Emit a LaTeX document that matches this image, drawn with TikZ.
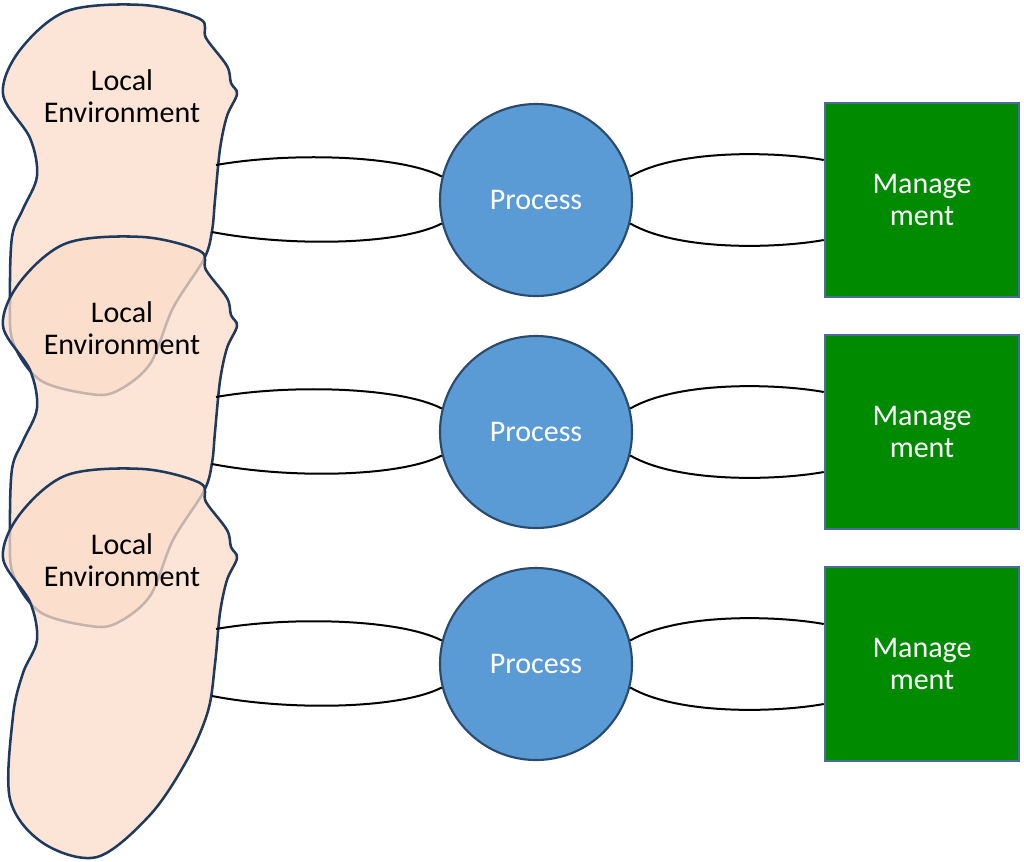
\documentclass[tikz,border=0pt]{standalone}
\usepackage{fontspec}
\setmainfont{Carlito}
\begin{document}
\begin{tikzpicture}[x=0.75pt,y=-0.75pt,
  blob/.style={draw=blobline,line width=1.9pt,fill=peach,fill opacity=0.75},
  proc/.style={circle,draw=procline,line width=1.6pt,fill=procfill,minimum size=144pt,inner sep=0pt,text=white,font=\fontsize{22.5}{27}\selectfont},
  mgmt/.style={rectangle,draw=mgline,line width=1.4pt,fill=mgfill,minimum width=146pt,minimum height=145pt,inner sep=0pt,text=white,align=center,font=\fontsize{22.5}{24}\selectfont},
  lbl/.style={align=center,font=\fontsize{22.5}{24}\selectfont,text=black},
  link/.style={draw=black,line width=1.5pt}]
\definecolor{peach}{HTML}{FBDCC8}
\definecolor{blobline}{HTML}{1F3A5C}
\definecolor{procfill}{HTML}{5B9BD5}
\definecolor{procline}{HTML}{2A4A6E}
\definecolor{mgfill}{HTML}{008A00}
\definecolor{mgline}{HTML}{4A6AA0}
\useasboundingbox (0,0) rectangle (1024,861);
% blobs
\foreach \o in {0,232}{
\draw[blob] plot[smooth cycle,tension=0.55] coordinates {(3,94+\o) (20,50+\o) (67,11+\o) (143,5+\o) (200,19+\o) (206,38+\o) (227,66+\o) (231,83+\o) (237,94+\o) (227,116+\o) (220,149+\o) (215,200+\o) (212,231+\o) (204,259+\o) (173,308+\o) (150,364+\o) (117,391+\o) (90,394+\o) (40,380+\o) (13,342+\o) (10,298+\o) (12,237+\o) (23,209+\o) (37,176+\o) (30,138+\o)};
}
\draw[blob] plot[smooth cycle,tension=0.55] coordinates {(3,558) (20,514) (67,475) (143,469) (200,483) (206,502) (227,530) (231,547) (237,558) (227,580) (220,613) (215,664) (208,711) (187,760) (150,815) (97,857) (43,843) (10,799) (13,716) (23,673) (37,640) (30,602)};
% labels
\foreach \i/\y in {1/96,2/328,3/560}{
  \node[lbl] (env\i) at (122,\y) {Local\\Environment};
}
\foreach \i/\y in {1/200,2/432,3/664}{
  \node[proc] (p\i) at (536,\y) {Process};
  \node[mgmt] (m\i) at (922,\y) {Manage\\ment};
  \coordinate (bt\i) at (216,\y-35);
  \coordinate (bb\i) at (212,\y+32);
  \draw[link] (bt\i) .. controls (290,\y-48) and (400,\y-45) .. (p\i.166);
  \draw[link] (bb\i) .. controls (290,\y+47) and (400,\y+45) .. (p\i.194);
  \draw[link] (p\i.14) .. controls (680,\y-52) and (780,\y-48) .. (m\i.west |- 0,\y-40);
  \draw[link] (p\i.-14) .. controls (680,\y+52) and (780,\y+48) .. (m\i.west |- 0,\y+40);
}
\end{tikzpicture}
\end{document}
